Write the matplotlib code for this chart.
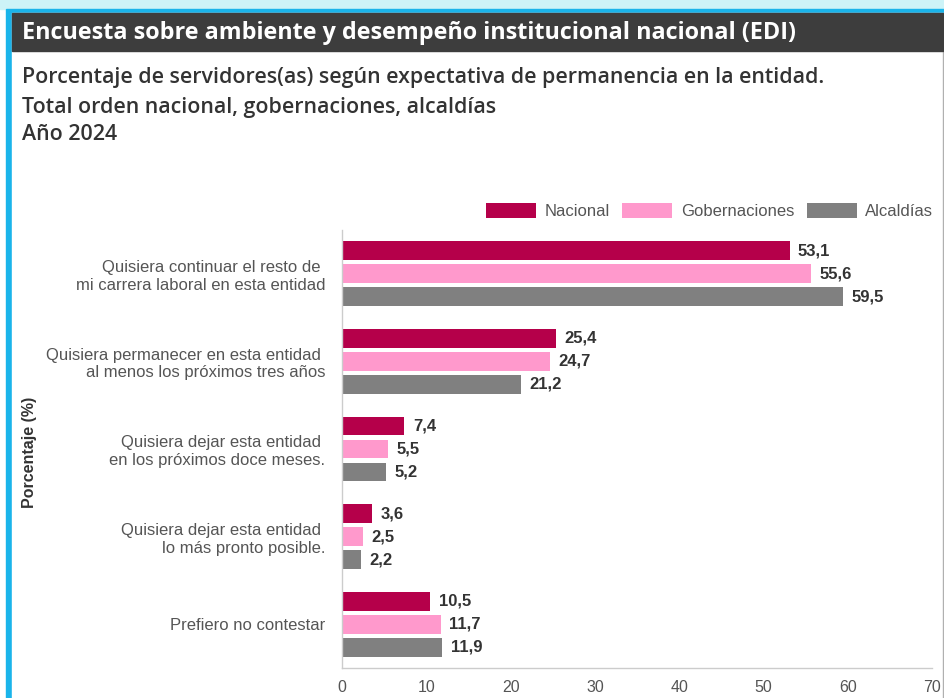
import numpy as np
import matplotlib
matplotlib.use("Agg")
from matplotlib import pyplot as plt
from matplotlib.patches import Rectangle

# Datos
categorias = ["Quisiera continuar el resto de \nmi carrera laboral en esta entidad",
              "Quisiera permanecer en esta entidad \nal menos los próximos tres años",
              "Quisiera dejar esta entidad \nen los próximos doce meses.",
              "Quisiera dejar esta entidad \nlo más pronto posible.",
              "Prefiero no contestar"]
series = ["Nacional", "Gobernaciones", "Alcaldías"]
nacional = [53.1, 25.4, 7.4, 3.6, 10.5]
gobernaciones = [55.6, 24.7, 5.5, 2.5, 11.7]
alcaldias = [59.5, 21.2, 5.2, 2.2, 11.9]
xticks = [0, 10, 20, 30, 40, 50, 60, 70]

colores = ["#b5004a", "#ff99cc", "#808080"]
W, H = 945, 698
fig = plt.figure(figsize=(W / 100, H / 100), dpi=100)
fig.patch.set_facecolor("white")

# marco y barra de titulo
fig.patches.append(Rectangle((0, 1 - 9 / H), 1, 9 / H, transform=fig.transFigure,
                             color="#cdf3f7", zorder=0))
fig.patches.append(Rectangle((6 / W, 0), 1 - 6 / W, 1 - 9 / H, transform=fig.transFigure,
                             color="#1ab4ea", zorder=0))
fig.patches.append(Rectangle((12 / W, 0), 1 - 12 / W - 2 / W, 1 - 13 / H,
                             transform=fig.transFigure, color="white", zorder=0))
fig.patches.append(Rectangle((1 - 2 / W, 0), 2 / W, 1 - 13 / H,
                             transform=fig.transFigure, color="#b0b0b0", zorder=0))
fig.patches.append(Rectangle((12 / W, 1 - 51 / H), 1 - 12 / W - 2 / W, 38 / H,
                             transform=fig.transFigure, color="#3d3d3d", zorder=1))

fig.text(22 / W, 1 - 33 / H, "Encuesta sobre ambiente y desempeño institucional nacional (EDI)",
         family="Open Sans", weight="bold", fontsize=16.8, color="white",
         va="center", ha="left", zorder=3)
subt = ["Porcentaje de servidores(as) según expectativa de permanencia en la entidad.",
        "Total orden nacional, gobernaciones, alcaldías",
        "Año 2024"]
for txt, yy in zip(subt, [78, 107, 135]):
    fig.text(22 / W, 1 - yy / H, txt, family="Open Sans", weight="semibold",
             fontsize=15.4, color="#333333", va="center", ha="left", zorder=3)

ax = fig.add_axes([342 / W, 30 / H, 590 / W, 438 / H])
ax.set_zorder(5)
ax.patch.set_alpha(0)
y = np.arange(len(categorias))
alto = 0.215
paso = 0.263
for k, (vals, nom) in enumerate(zip([nacional, gobernaciones, alcaldias], series)):
    pos = y + (k - 1) * paso
    ax.barh(pos, vals, height=alto, color=colores[k], label=nom, zorder=2)
    for p, v in zip(pos, vals):
        ax.text(v + 1.0, p, f"{v:.1f}".replace(".", ","), va="center", ha="left",
                family="Liberation Sans", weight="bold", fontsize=12, color="#333333")

ax.set_xlim(0, 70)
ax.set_ylim(4.5, -0.5)
ax.set_xticks(xticks)
ax.set_xticklabels([str(t) for t in xticks], family="Liberation Sans", fontsize=11.5,
                   color="#555555")
ax.set_yticks(y)
ax.set_yticklabels(categorias, family="Liberation Sans", fontsize=12, color="#555555",
                   multialignment="right")
ax.tick_params(axis="x", length=0, pad=9)
ax.tick_params(axis="y", length=0, pad=12)
for s in ["top", "right"]:
    ax.spines[s].set_visible(False)
for s in ["left", "bottom"]:
    ax.spines[s].set_color("#cccccc")
    ax.spines[s].set_linewidth(1)

fig.text(30 / W, 1 - 452 / H, "Porcentaje (%)", rotation=90, family="Liberation Sans",
         weight="bold", fontsize=11.5, color="#333333", va="center", ha="center", zorder=3)

leg = fig.legend(loc="upper right", bbox_to_anchor=(948 / W, 1 - 188 / H), ncol=3,
                 frameon=False, prop={"family": "Liberation Sans", "size": 12},
                 handlelength=3.0, handleheight=1.0, columnspacing=0.75, handletextpad=0.5)
for t in leg.get_texts():
    t.set_color("#555555")

fig.savefig("out.png", dpi=100)
